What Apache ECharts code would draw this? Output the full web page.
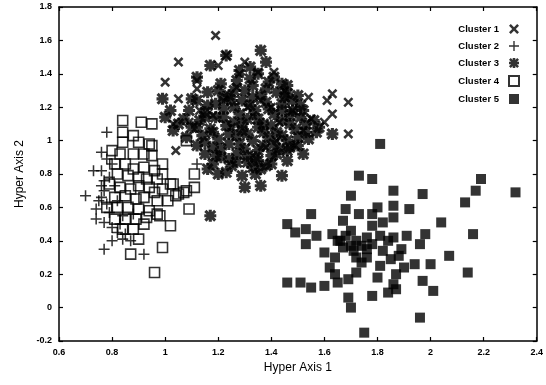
<!DOCTYPE html>
<html>
<head>
<meta charset="UTF-8">
<title>Clusters</title>
<style>
  html, body { margin: 0; padding: 0; background: #fff; }
  #chart { width: 546px; height: 385px; }
</style>
</head>
<body>
<div id="chart"></div>
<script src="https://cdn.jsdelivr.net/npm/echarts@6/dist/echarts.min.js"></script>
<script>
var clusterNames = ['Cluster 1', 'Cluster 2', 'Cluster 3', 'Cluster 4', 'Cluster 5'];

// cluster 1 - crosses
var cluster1 = [
  [1.19,1.63],[1.05,1.47],[1.00,1.35],[1.05,1.25],[1.09,1.11],[1.04,0.94],[1.03,1.10],[1.20,1.45],
  [1.30,1.47],[1.28,1.40],[1.23,1.51],[1.41,1.41],[1.35,1.41],[1.45,1.30],[1.54,1.26],[1.61,1.24],
  [1.63,1.28],[1.69,1.23],[1.63,1.16],[1.60,1.11],[1.69,1.04],[1.49,0.97],[1.43,1.11],[1.36,1.24],
  [1.52,1.06],[1.38,0.96],[1.12,1.36],[1.22,1.24],[1.31,1.20],[1.42,1.00],[1.25,1.08],[1.13,1.18],
  [1.55,1.13],[1.12,1.31],[1.27,1.32],[1.33,1.15],[1.18,1.15],[1.40,1.20],[1.48,1.18]
];

// cluster 2 - plus signs
var cluster2 = [
  [0.78,1.05],[0.76,0.93],[0.78,0.89],[0.73,0.82],[0.76,0.82],[0.77,0.76],[0.70,0.67],[0.76,0.66],
  [0.75,0.64],[0.78,0.62],[0.79,0.57],[0.74,0.53],[0.77,0.51],[0.80,0.48],[0.82,0.45],[0.85,0.44],
  [0.84,0.41],[0.77,0.35],[0.92,0.32],[0.80,0.40],[0.87,0.40],[0.74,0.59],[0.77,0.70],[0.79,0.78],
  [1.12,0.86],[0.82,0.64],[0.81,0.73],[0.84,0.55],[0.76,0.73],[0.80,0.86],[0.83,0.50],[0.88,0.56]
];

// cluster 3 - asterisks
var cluster3 = [
  [1.36,1.54],[1.17,1.45],[1.23,1.51],[1.12,1.38],[0.99,1.25],[1.10,1.25],[1.00,1.14],[1.38,1.47],
  [1.44,0.79],[1.30,0.72],[1.36,0.73],[1.20,0.80],[1.34,0.80],[1.16,0.83],[1.63,1.04],[1.56,1.12],
  [1.52,1.18],[1.46,1.28],[1.48,1.24],[1.35,1.40],[1.46,1.33],[1.50,1.27],[1.42,0.92],[1.46,0.94],
  [1.35,0.88],[1.48,1.18],[1.17,0.55],[1.02,1.18],[1.05,1.10],[1.03,1.06],[1.32,1.44],[1.28,1.42],
  [1.41,1.38],[1.44,1.34],[1.46,0.88],[1.40,0.86],[1.52,0.92],
  [1.21,1.34],[1.27,1.36],[1.33,1.33],[1.39,1.35],
  [1.16,1.29],[1.24,1.27],[1.30,1.30],[1.36,1.27],[1.42,1.29],
  [1.12,1.24],[1.19,1.22],[1.25,1.24],[1.32,1.21],[1.38,1.23],[1.44,1.22],[1.51,1.21],
  [1.09,1.18],[1.15,1.17],[1.22,1.19],[1.28,1.16],[1.34,1.18],[1.41,1.16],[1.47,1.15],
  [1.07,1.13],[1.13,1.12],[1.19,1.14],[1.26,1.11],[1.31,1.13],[1.37,1.10],[1.44,1.12],[1.53,1.10],
  [1.10,1.08],[1.17,1.07],[1.23,1.09],[1.29,1.06],[1.35,1.08],[1.42,1.05],[1.49,1.07],[1.57,1.05],
  [1.08,1.02],[1.14,1.03],[1.20,1.01],[1.27,1.03],[1.33,1.00],[1.39,1.02],[1.46,1.00],[1.54,1.01],
  [1.12,0.97],[1.18,0.96],[1.24,0.98],[1.30,0.95],[1.37,0.97],[1.43,0.95],[1.50,0.97],
  [1.15,0.92],[1.21,0.90],[1.27,0.92],[1.34,0.90],[1.40,0.91],
  [1.18,0.86],[1.25,0.85],[1.31,0.87],[1.38,0.85],[1.23,0.81],[1.29,0.79],
  [1.20,1.30],[1.26,1.20],[1.33,1.26],[1.39,1.19],[1.45,1.26],[1.16,1.21],[1.22,1.14],[1.29,1.10],
  [1.35,1.13],[1.40,1.09],[1.47,1.10],[1.51,1.14],[1.18,1.05],[1.24,1.04],[1.31,1.04],[1.37,1.05],
  [1.44,1.03],[1.50,1.02],[1.15,0.99],[1.21,0.95],[1.28,0.98],[1.35,0.94],[1.41,0.98],[1.47,0.96],
  [1.24,0.89],[1.31,0.91],[1.36,0.83],[1.19,0.91],[1.12,1.08],[1.15,1.14],[1.26,1.30],[1.32,1.37],
  [1.38,1.31],[1.29,1.24],[1.22,1.26],[1.44,1.18],[1.53,1.05],[1.58,1.08],[1.27,0.87],[1.33,0.84]
];

// cluster 4 - open squares
var cluster4 = [
  [0.84,1.12],[0.91,1.11],[0.95,1.10],[0.84,1.05],[0.88,1.03],[0.90,0.99],[0.84,0.99],[0.94,0.98],
  [0.80,0.94],[0.83,0.92],[0.88,0.92],[0.92,0.92],[0.95,0.91],[0.81,0.86],[0.85,0.86],[0.88,0.83],
  [0.92,0.84],[0.96,0.82],[0.99,0.86],[0.82,0.80],[0.86,0.79],[0.90,0.78],[0.93,0.77],[0.97,0.77],
  [1.02,0.74],[0.79,0.74],[0.83,0.72],[0.87,0.71],[0.90,0.73],[0.94,0.72],[0.99,0.71],[1.05,0.68],
  [0.81,0.66],[0.85,0.67],[0.89,0.65],[0.92,0.66],[0.97,0.64],[1.01,0.64],[0.78,0.60],[0.82,0.60],
  [0.86,0.60],[0.90,0.59],[0.94,0.58],[0.97,0.56],[0.81,0.53],[0.85,0.53],[0.89,0.53],[0.93,0.54],
  [0.98,0.55],[1.02,0.49],[0.84,0.47],[0.88,0.47],[0.92,0.50],[0.90,0.41],[0.99,0.36],[0.87,0.32],
  [0.96,0.21],[1.08,1.00],[1.11,0.80],[1.11,0.72],[1.08,0.70],[1.04,0.67],[1.09,0.59],[0.95,0.97],
  [0.99,0.80],[1.03,0.74],[0.96,0.69],[1.07,0.69]
];

// cluster 5 - filled squares
var cluster5 = [
  [1.81,0.98],[1.73,0.79],[1.78,0.77],[1.86,0.70],[1.97,0.68],[2.19,0.77],[2.17,0.70],[2.32,0.69],
  [2.13,0.63],[1.70,0.67],[1.86,0.61],[1.92,0.59],[1.80,0.60],[1.78,0.56],[1.68,0.59],[1.73,0.56],
  [1.55,0.56],[1.46,0.50],[1.49,0.45],[1.53,0.47],[1.57,0.43],[1.53,0.38],[1.67,0.52],[1.86,0.54],
  [1.82,0.51],[2.04,0.51],[1.98,0.44],[2.16,0.44],[1.63,0.44],[1.68,0.43],[1.72,0.40],[1.76,0.42],
  [1.81,0.43],[1.86,0.42],[1.91,0.43],[1.96,0.38],[1.67,0.36],[1.71,0.34],[1.76,0.35],[1.82,0.34],
  [1.89,0.35],[1.60,0.33],[1.64,0.30],[2.07,0.31],[1.62,0.24],[1.72,0.30],[1.81,0.25],[1.90,0.24],
  [1.94,0.26],[2.00,0.26],[2.14,0.21],[1.64,0.20],[1.72,0.21],[1.69,0.17],[1.65,0.15],[1.80,0.18],
  [1.87,0.20],[1.86,0.14],[1.84,0.09],[1.87,0.11],[1.97,0.16],[2.01,0.10],[1.46,0.15],[1.51,0.15],
  [1.55,0.12],[1.60,0.13],[1.69,0.06],[1.70,0.00],[1.78,0.07],[1.96,-0.06],[1.75,-0.15],
  [1.74,0.37],[1.70,0.46],[1.65,0.40],[1.78,0.49],[1.85,0.29],[1.74,0.27],[1.66,0.40],[1.78,0.38],
  [1.84,0.40],[1.88,0.31],[1.76,0.30],[1.70,0.37]
];

var xMin = 0.6, xMax = 2.4, xStep = 0.2;
var yMin = -0.2, yMax = 1.8, yStep = 0.2;

var crossPath = 'path://M0,1.8L1.8,0L5,3.2L8.2,0L10,1.8L6.8,5L10,8.2L8.2,10L5,6.8L1.8,10L0,8.2L3.2,5Z';
var plusPath = 'path://M4.3,0H5.7V4.3H10V5.7H5.7V10H4.3V5.7H0V4.3H4.3Z';
var starPath = 'path://M0,3.7H10V6.3H0Z M3.7,0H6.3V10H3.7Z M1.8,0L10,8.2L8.2,10L0,1.8Z M8.2,0L10,1.8L1.8,10L0,8.2Z';
var squarePath = 'path://M0,0H10V10H0Z';

var myChart = echarts.init(document.getElementById('chart'), null, { renderer: 'canvas' });

var tickFont = { color: '#000', fontSize: 9, fontWeight: 'bold', fontFamily: 'Liberation Sans' };

function frameAxis(pos, min, max, step, showLabel) {
  return {
    type: 'value', position: pos, min: min, max: max, interval: step,
    axisLine: { show: true, onZero: false, lineStyle: { color: '#000', width: 1.5 } },
    axisTick: { show: true, inside: true, length: 4, lineStyle: { color: '#000', width: 1.2 } },
    axisLabel: Object.assign({ show: showLabel, margin: 7 }, tickFont),
    splitLine: { show: false }
  };
}

var xBottom = frameAxis('bottom', xMin, xMax, xStep, true);
xBottom.name = 'Hyper Axis 1';
xBottom.nameLocation = 'middle';
xBottom.nameGap = 16;
xBottom.nameTextStyle = { color: '#000', fontSize: 12, fontFamily: 'Liberation Sans' };

var yLeft = frameAxis('left', yMin, yMax, yStep, true);
yLeft.name = 'Hyper Axis 2';
yLeft.nameLocation = 'middle';
yLeft.nameGap = 31;
yLeft.nameTextStyle = { color: '#000', fontSize: 12, fontFamily: 'Liberation Sans' };

var option = {
  animation: false,
  backgroundColor: '#fff',
  grid: { left: 59, right: 4, top: 7, bottom: 44 },
  legend: {
    orient: 'vertical',
    right: 21,
    top: 19,
    align: 'right',
    itemWidth: 20,
    itemHeight: 10,
    itemGap: 7,
    textStyle: { color: '#000', fontSize: 9.5, fontWeight: 'bold', fontFamily: 'Liberation Sans' },
    data: clusterNames
  },
  xAxis: [xBottom, frameAxis('top', xMin, xMax, xStep, false)],
  yAxis: [yLeft, frameAxis('right', yMin, yMax, yStep, false)],
  series: [
    { name: clusterNames[0], type: 'scatter', data: cluster1, symbol: crossPath, symbolSize: 10,
      symbolKeepAspect: true, itemStyle: { color: '#000' } },
    { name: clusterNames[1], type: 'scatter', data: cluster2, symbol: plusPath, symbolSize: 11,
      symbolKeepAspect: true, itemStyle: { color: '#000' } },
    { name: clusterNames[2], type: 'scatter', data: cluster3, symbol: starPath, symbolSize: 12,
      symbolKeepAspect: true, itemStyle: { color: '#000' } },
    { name: clusterNames[3], type: 'scatter', data: cluster4, symbol: squarePath, symbolSize: 10,
      symbolKeepAspect: true, itemStyle: { color: 'rgba(255,255,255,0)', borderColor: '#000', borderWidth: 1.6 } },
    { name: clusterNames[4], type: 'scatter', data: cluster5, symbol: squarePath, symbolSize: 10,
      symbolKeepAspect: true, itemStyle: { color: '#000' } }
  ]
};
myChart.setOption(option);
</script>
</body>
</html>
